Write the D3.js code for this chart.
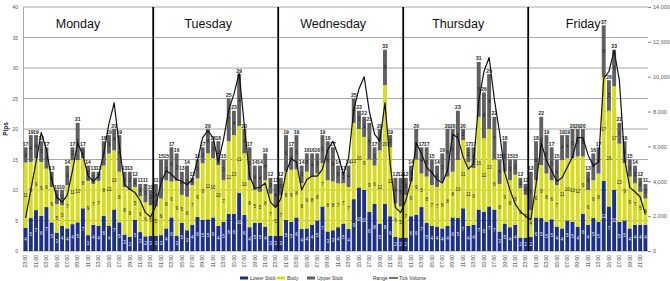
<!DOCTYPE html>
<html>
<head>
<meta charset="utf-8">
<script src="https://cdn.jsdelivr.net/npm/d3@7"></script>
<style>
  html, body { margin: 0; padding: 0; background: #fff; }
  svg { display: block; font-family: "Liberation Sans", Arial, sans-serif; }
</style>
</head>
<body>
<div id="chart"></div>
<script>
// ---- data (pips per hourly bar, one row per day) ----
const days = ["Monday", "Tuesday", "Wednesday", "Thursday", "Friday"];
// Monday opens with the Sunday 23:00 bar, Friday closes after 22:00
const dayStartHour = [23, 0, 0, 0, 0];
const hourLabels = d3.range(24).map(h => String(h).padStart(2, "0") + ":00");

const lowerStick = [
  [3.8, 5.4, 6.7, 5.8, 7.2, 4.7, 3.0, 4.1, 3.7, 4.4, 4.7, 7.0, 2.6, 4.3, 4.1, 5.8, 4.1, 6.8, 4.7, 2.7, 2.3, 5.1, 3.1, 2.4, 2.5],
  [2.5, 2.6, 3.7, 5.5, 2.5, 4.6, 3.4, 4.3, 5.6, 5.1, 5.2, 5.5, 4.1, 4.8, 6.1, 6.1, 9.5, 5.9, 3.9, 4.6, 4.6, 4.0, 2.5, 2.5],
  [2.5, 5.1, 4.8, 5.5, 3.6, 3.7, 4.3, 5.0, 7.3, 3.2, 3.4, 3.9, 4.5, 3.6, 8.5, 10.4, 10.0, 6.4, 7.7, 4.5, 7.7, 5.7, 2.3, 2.2],
  [2.2, 5.7, 5.9, 7.2, 4.6, 4.1, 4.0, 3.7, 4.1, 5.5, 5.4, 7.0, 4.1, 4.3, 6.8, 6.4, 7.3, 6.8, 3.2, 4.5, 3.9, 4.3, 2.2, 2.2],
  [2.3, 5.5, 5.4, 4.8, 5.2, 4.0, 3.7, 5.0, 4.8, 4.0, 6.1, 4.3, 5.4, 4.8, 11.5, 7.3, 10.0, 4.8, 5.0, 3.7, 4.3, 4.3, 4.3]
];
const body = [
  [10.7, 9.2, 8.5, 8.8, 6.3, 5.8, 4.7, 3.4, 7.1, 10.5, 10.2, 8.2, 8.9, 6.7, 7.4, 8.2, 11.9, 9.7, 8.3, 7.8, 7.7, 5.4, 5.9, 5.6, 5.0],
  [4.8, 6.0, 7.9, 5.9, 9.0, 4.6, 5.5, 6.5, 6.3, 9.3, 10.8, 9.7, 10.0, 6.8, 11.9, 12.9, 11.0, 10.1, 7.7, 5.4, 5.1, 7.6, 6.9, 4.8],
  [6.7, 7.9, 8.5, 7.9, 7.5, 9.3, 7.9, 7.7, 7.1, 8.4, 8.0, 7.2, 6.6, 6.9, 12.5, 9.6, 8.7, 8.6, 6.3, 12.0, 19.5, 11.3, 5.5, 5.1],
  [7.0, 5.7, 9.1, 5.5, 7.6, 6.7, 6.5, 7.7, 8.1, 7.5, 9.5, 11.2, 10.5, 9.3, 15.2, 12.1, 12.7, 8.2, 7.8, 8.5, 7.7, 8.2, 8.1, 7.0],
  [4.4, 6.1, 8.7, 7.9, 6.4, 6.8, 11.2, 10.2, 10.4, 11.5, 9.4, 5.7, 6.2, 7.9, 17.0, 15.7, 17.0, 12.8, 9.4, 8.5, 6.8, 5.4, 4.3]
];
const upperStick = [
  [2.5, 4.4, 3.8, 3.4, 3.5, 2.5, 2.3, 2.5, 3.2, 2.1, 6.1, 1.8, 2.5, 2.0, 1.5, 4.0, 3.0, 3.5, 6.0, 2.5, 3.0, 1.5, 2.0, 3.0, 2.5],
  [3.7, 6.4, 3.4, 5.6, 4.5, 3.8, 5.1, 1.2, 3.1, 2.6, 4.0, 2.8, 3.9, 3.4, 7.0, 4.0, 8.5, 4.0, 5.4, 4.0, 4.3, 4.4, 2.6, 3.7],
  [2.8, 6.0, 3.7, 5.6, 2.9, 3.0, 3.8, 3.3, 4.6, 6.4, 5.6, 2.9, 1.9, 3.5, 4.0, 3.0, 3.3, 6.0, 3.0, 3.5, 5.8, 2.0, 4.2, 4.7],
  [2.8, 2.6, 5.0, 4.3, 4.8, 4.2, 3.5, 4.6, 7.8, 7.0, 8.1, 1.8, 2.4, 3.4, 9.0, 7.5, 9.0, 7.0, 4.0, 5.0, 3.4, 2.5, 1.7, 1.8],
  [6.3, 6.4, 7.9, 6.3, 5.4, 4.2, 4.1, 3.8, 4.8, 4.5, 4.5, 3.0, 4.4, 4.3, 8.5, 5.0, 6.0, 3.4, 3.6, 2.8, 2.9, 2.3, 2.4]
];
const tickVolume = [
  [1900, 3500, 5100, 6800, 5800, 4100, 3100, 2800, 3200, 4600, 6200, 5500, 4300, 4000, 4300, 5600, 7300, 8500, 6000, 3800, 3550, 3350, 2900, 2200, 1950],
  [2600, 3900, 4600, 4400, 4100, 4000, 3800, 4100, 5200, 6500, 6900, 6500, 5100, 6400, 8100, 9000, 10200, 7200, 4300, 3600, 3650, 3900, 2800, 2500],
  [3000, 4500, 5300, 5100, 3500, 4100, 4300, 4300, 4700, 5800, 6300, 5500, 4400, 5300, 8100, 9300, 10000, 8000, 6700, 6300, 8500, 5000, 2500, 2200],
  [2900, 4000, 6200, 5600, 4800, 4500, 4100, 3900, 4600, 6700, 6500, 5400, 4700, 5000, 8600, 10300, 11100, 8700, 6800, 4500, 3500, 2700, 2250, 2000],
  [1800, 3800, 6200, 5200, 4600, 4000, 4200, 4800, 5400, 6500, 6500, 5500, 4900, 5100, 9900, 10300, 11500, 9800, 5300, 3650, 3400, 3100, 2100]
];

// ---- layout ----
const width = 670, height = 281;
const plotLeft = 23, plotRight = 648, plotTop = 7, plotBottom = 251;
const colors = { lower: "#1c3088", body: "#d6dc1e", upper: "#606060" };

const bars = [];
days.forEach((day, d) => {
  lowerStick[d].forEach((lo, i) => {
    bars.push({
      g: bars.length, d, day,
      hour: hourLabels[(dayStartHour[d] + i) % 24],
      lower: lo, body: body[d][i], upper: upperStick[d][i],
      volume: tickVolume[d][i]
    });
  });
});
bars.forEach(b => b.range = b.lower + b.body + b.upper);

const svg = d3.select("#chart").append("svg")
  .attr("width", width).attr("height", height);

const x = d3.scaleBand()
  .domain(bars.map(b => b.g))
  .range([plotLeft, plotRight])
  .paddingInner(0.25)
  .paddingOuter(0.125);
const y = d3.scaleLinear().domain([0, 40]).range([plotBottom, plotTop]);
const yVol = d3.scaleLinear().domain([0, 14000]).range([plotBottom, plotTop]);
const bw = x.bandwidth();
const cx = b => x(b.g) + bw / 2;

// gridlines
svg.append("g")
  .selectAll("line")
  .data(y.ticks(8))
  .join("line")
  .attr("x1", plotLeft).attr("x2", plotRight)
  .attr("y1", d => y(d)).attr("y2", d => y(d))
  .attr("stroke", "#a6a6a6")
  .attr("stroke-width", 1);

// left axis
const yAxis = svg.append("g")
  .attr("transform", `translate(${plotLeft},0)`)
  .call(d3.axisLeft(y).ticks(8).tickSize(0).tickPadding(5));
yAxis.select(".domain").attr("stroke", "#a6a6a6");
yAxis.selectAll("text").attr("font-size", 5).attr("fill", "#555");

// right axis (tick volume)
const yAxisR = svg.append("g")
  .attr("transform", `translate(${plotRight},0)`)
  .call(d3.axisRight(yVol).tickValues(d3.range(0, 14001, 2000)).tickFormat(d3.format(",")).tickSize(3).tickPadding(2));
yAxisR.select(".domain").remove();
yAxisR.selectAll("line").attr("stroke", "#888");
yAxisR.selectAll("text").attr("font-size", 5.5).attr("fill", "#555");

svg.append("text")
  .text("Pips")
  .attr("transform", `translate(8,${(plotTop + plotBottom) / 2}) rotate(-90)`)
  .attr("text-anchor", "middle")
  .attr("font-size", 6.5)
  .attr("font-weight", "bold")
  .attr("fill", "#222");

// stacked bars
const keys = ["lower", "body", "upper"];
const series = d3.stack().keys(keys)(bars);

const layers = svg.append("g")
  .selectAll("g")
  .data(series)
  .join("g")
  .attr("fill", s => colors[s.key]);

layers.selectAll("rect")
  .data(s => s)
  .join("rect")
  .attr("x", p => x(p.data.g))
  .attr("width", bw)
  .attr("y", p => y(p[1]))
  .attr("height", p => y(p[0]) - y(p[1]));

// values inside segments
svg.append("g")
  .selectAll("g")
  .data(series)
  .join("g")
  .attr("fill", s => s.key === "lower" ? "#e8ecff" : "#1a1a1a")
  .attr("font-size", 4.5)
  .attr("text-anchor", "middle")
  .selectAll("text")
  .data(s => s)
  .join("text")
  .attr("x", p => cx(p.data))
  .attr("y", p => (y(p[0]) + y(p[1])) / 2 + 1.6)
  .text(p => Math.round(p[1] - p[0]));

// range labels on top
svg.append("g")
  .selectAll("text")
  .data(bars)
  .join("text")
  .attr("x", cx)
  .attr("y", b => y(b.range) - 1.5)
  .attr("text-anchor", "middle")
  .attr("font-size", 5)
  .attr("font-weight", "bold")
  .attr("fill", "#222")
  .text(b => Math.round(b.range));

// tick volume line
svg.append("path")
  .datum(bars)
  .attr("fill", "none")
  .attr("stroke", "#111")
  .attr("stroke-width", 1.2)
  .attr("stroke-linejoin", "round")
  .attr("d", d3.line().x(cx).y(b => yVol(b.volume)));

// day separators and names
const dayStarts = days.map((day, d) => bars.find(b => b.d === d));
const boundary = b => x(b.g) - x.step() * x.paddingInner() / 2;

svg.append("g")
  .selectAll("line")
  .data(dayStarts.slice(1))
  .join("line")
  .attr("x1", boundary).attr("x2", boundary)
  .attr("y1", plotTop).attr("y2", plotBottom)
  .attr("stroke", "#000")
  .attr("stroke-width", 1.8);

svg.append("g")
  .selectAll("text")
  .data(dayStarts)
  .join("text")
  .attr("x", b => Math.max(boundary(b), plotLeft) + 55)
  .attr("y", 27.5)
  .attr("text-anchor", "middle")
  .attr("font-size", 12.5)
  .attr("fill", "#111")
  .text(b => b.day);

// hour labels (every other bar)
svg.append("g")
  .selectAll("text")
  .data(bars.filter(b => b.g % 2 === 0))
  .join("text")
  .attr("transform", b => `translate(${cx(b)},${plotBottom + 4}) rotate(-90)`)
  .attr("text-anchor", "end")
  .attr("dy", "0.35em")
  .attr("font-size", 5)
  .attr("fill", "#333")
  .text(b => b.hour);

// legend
const legend = svg.append("g").attr("transform", "translate(0,278)");
const legendItems = [
  { label: "Lower Stick", kind: "rect", color: colors.lower, x: 240 },
  { label: "Body", kind: "rect", color: colors.body, x: 277 },
  { label: "Upper Stick", kind: "rect", color: colors.upper, x: 307 },
  { label: "Range", kind: "none", color: "none", x: 363 },
  { label: "Tick Volume", kind: "line", color: "#111", x: 389 }
];
const li = legend.selectAll("g").data(legendItems).join("g")
  .attr("transform", d => `translate(${d.x},0)`);
li.filter(d => d.kind === "rect").append("rect")
  .attr("x", 0).attr("y", -1.5).attr("width", 8).attr("height", 3)
  .attr("fill", d => d.color);
li.filter(d => d.kind === "line").append("line")
  .attr("x1", 0).attr("x2", 9).attr("y1", 0).attr("y2", 0)
  .attr("stroke", d => d.color).attr("stroke-width", 1.2);
li.append("text")
  .attr("x", 10).attr("y", 1.8)
  .attr("font-size", 5)
  .attr("fill", "#333")
  .text(d => d.label);
</script>
</body>
</html>
